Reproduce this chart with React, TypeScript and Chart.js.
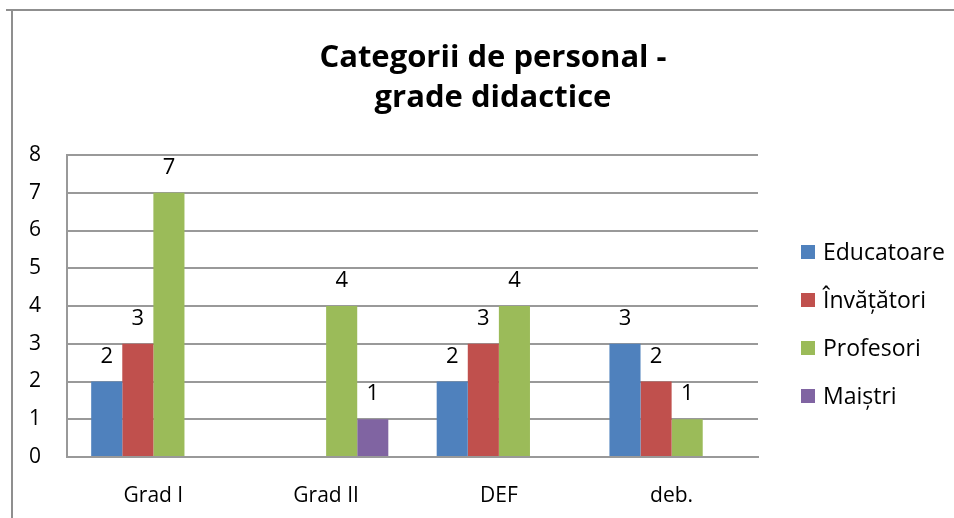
import React, { useEffect, useRef } from "react";
import { Chart, registerables } from "chart.js";

Chart.register(...registerables);

const categories = ["Grad I", "Grad II", "DEF", "deb."];
const seriesNames = ["Educatoare", "Învățători", "Profesori", "Maiștri"];
const educatoare: (number | null)[] = [2, null, 2, 3];
const invatatori: (number | null)[] = [3, null, 3, 2];
const profesori: (number | null)[] = [7, 4, 4, 1];
const maistri: (number | null)[] = [null, 1, null, null];
const colors = ["#4F81BD", "#C0504D", "#9BBB59", "#8064A2"];
const titleLines = ["Categorii de personal -", "grade didactice"];
const FONT = "'Open Sans', Lato, sans-serif";

const framePlugin = {
  id: "frame",
  beforeDraw(chart: any) {
    const ctx = chart.ctx;
    ctx.save();
    ctx.strokeStyle = "#8f8f8f";
    ctx.lineWidth = 2;
    ctx.beginPath();
    ctx.moveTo(6, 10);
    ctx.lineTo(954, 10);
    ctx.moveTo(12, 10);
    ctx.lineTo(12, 518);
    ctx.stroke();
    // title
    ctx.fillStyle = "#000";
    ctx.font = `bold 31px ${FONT}`;
    ctx.textAlign = "center";
    ctx.textBaseline = "alphabetic";
    ctx.fillText(titleLines[0], 493, 67);
    ctx.fillText(titleLines[1], 493, 107);
    ctx.restore();
  },
};

const labelsLegendPlugin = {
  id: "labelsLegend",
  afterDatasetsDraw(chart: any) {
    const ctx = chart.ctx;
    ctx.save();
    ctx.fillStyle = "#000";
    ctx.font = `22px ${FONT}`;
    ctx.textAlign = "center";
    ctx.textBaseline = "alphabetic";
    chart.data.datasets.forEach((ds: any, di: number) => {
      const meta = chart.getDatasetMeta(di);
      meta.data.forEach((bar: any, i: number) => {
        const v = ds.data[i];
        if (v === null || v === undefined) return;
        ctx.fillText(String(v), bar.x, bar.y - 19);
      });
    });
    // legend
    ctx.textAlign = "left";
    ctx.textBaseline = "alphabetic";
    ctx.font = `23px ${FONT}`;
    seriesNames.forEach((name, i) => {
      const cy = 252 + i * 48;
      ctx.fillStyle = colors[i];
      ctx.fillRect(801, cy - 7, 14, 14);
      ctx.fillStyle = "#000";
      ctx.fillText(name, 823, cy + 8);
    });
    ctx.restore();
  },
};

export default function App() {
  const ref = useRef<HTMLCanvasElement>(null);
  useEffect(() => {
    if (!ref.current) return;
    const chart = new Chart(ref.current, {
      type: "bar",
      data: {
        labels: categories,
        datasets: [educatoare, invatatori, profesori, maistri].map((d, i) => ({
          label: seriesNames[i],
          data: d,
          backgroundColor: colors[i],
          borderWidth: 0,
          categoryPercentage: 0.72,
          barPercentage: 1,
        })),
      },
      options: {
        responsive: false,
        animation: false,
        layout: { padding: { top: 155, right: 196, left: 0, bottom: 0 } },
        plugins: {
          legend: { display: false },
          title: { display: false },
          tooltip: { enabled: false },
        },
        scales: {
          x: {
            grid: { display: false },
            border: { display: true, color: "#999", width: 2 },
            ticks: { color: "#000", font: { size: 21, family: FONT }, padding: 18 },
            afterFit: (s: any) => {
              s.height = 61;
            },
          },
          y: {
            min: 0,
            max: 8,
            ticks: {
              stepSize: 1,
              color: "#000",
              font: { size: 21, family: FONT },
              padding: 26,
            },
            grid: { color: "#999", lineWidth: 2, drawTicks: false },
            border: { display: true, color: "#999", width: 2 },
            afterFit: (s: any) => {
              s.width = 67;
            },
          },
        },
      },
      plugins: [framePlugin, labelsLegendPlugin],
    });
    return () => chart.destroy();
  }, []);
  return (
    <div style={{ position: "fixed", left: 0, top: 0, width: 954, height: 518, background: "#fff" }}>
      <canvas ref={ref} width={954} height={518} style={{ display: "block" }} />
    </div>
  );
}
